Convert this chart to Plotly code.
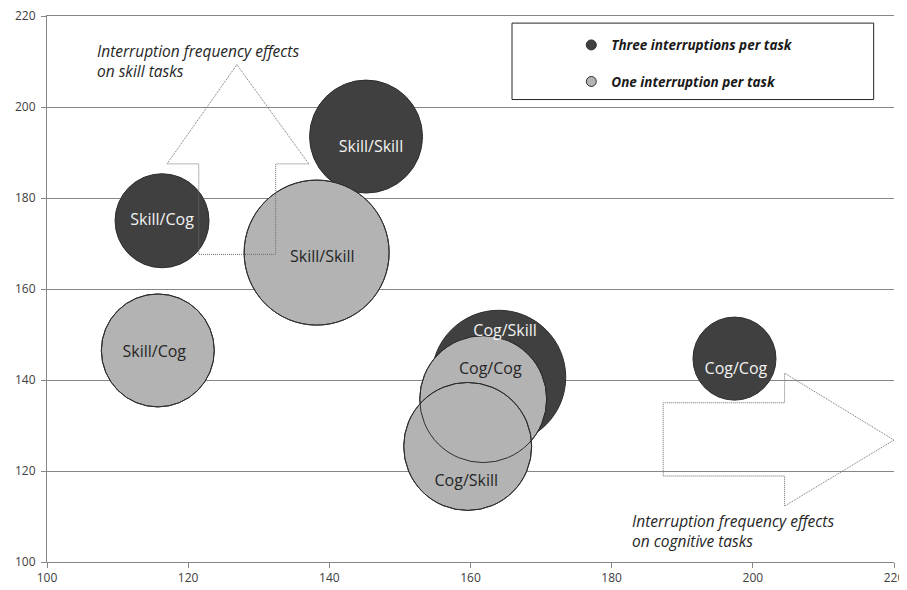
import plotly.graph_objects as go

# ---- data ----
series_names = ["Three interruptions per task", "One interruption per task"]

three_labels = ["Skill/Cog", "Skill/Skill", "Cog/Skill", "Cog/Cog"]
three_x = [116.3, 145.2, 164.0, 197.4]
three_y = [175.0, 193.5, 140.6, 144.7]
three_size = [42.0, 60.7, 85.4, 32.8]

one_labels = ["Skill/Cog", "Skill/Skill", "Cog/Cog", "Cog/Skill"]
one_x = [115.7, 138.2, 161.8, 159.6]
one_y = [146.5, 168.0, 135.8, 125.4]
one_size = [60.7, 100.0, 76.7, 77.9]

# label anchor positions (data coords) as placed in the original chart
three_label_x = [116.3, 145.9, 164.9, 197.6]
three_label_y = [175.0, 191.0, 150.6, 142.3]
one_label_x = [115.2, 139.0, 162.8, 159.4]
one_label_y = [146.0, 166.9, 142.3, 117.5]

x_ticks = [100, 120, 140, 160, 180, 200, 220]
y_ticks = [100, 120, 140, 160, 180, 200, 220]

# arrow outlines (data coords)
up_arrow_x = [126.9, 137.1, 132.4, 132.4, 121.5, 121.5, 117.0]
up_arrow_y = [209.3, 187.5, 187.5, 167.6, 167.6, 187.5, 187.5]
right_arrow_x = [220.0, 204.5, 204.5, 187.3, 187.3, 204.5, 204.5]
right_arrow_y = [126.8, 112.3, 118.9, 118.9, 135.0, 135.0, 141.5]

FONT = "Open Sans"
DARK = "#404040"
LIGHT = "#b3b3b3"
EDGE = "#2e2e2e"
GRID = "#868686"

max_diam = 145
sizeref = 2.0 * max(one_size + three_size) / (max_diam ** 2)

fig = go.Figure()

fig.add_trace(go.Scatter(
    x=three_x, y=three_y, mode="markers", name=series_names[0],
    showlegend=False,
    marker=dict(size=three_size, sizemode="area", sizeref=sizeref, color=DARK,
                opacity=1, line=dict(color=EDGE, width=1)),
    hoverinfo="skip",
))
fig.add_trace(go.Scatter(
    x=one_x, y=one_y, mode="markers", name=series_names[1],
    showlegend=False,
    marker=dict(size=one_size, sizemode="area", sizeref=sizeref, color=LIGHT,
                opacity=1, line=dict(color=EDGE, width=1)),
    hoverinfo="skip",
))
# outlines of light bubbles drawn on top (overlaps show both rims)
fig.add_trace(go.Scatter(
    x=one_x, y=one_y, mode="markers", showlegend=False,
    marker=dict(size=one_size, sizemode="area", sizeref=sizeref, opacity=1,
                color="rgba(0,0,0,0)", line=dict(color=EDGE, width=1)),
    hoverinfo="skip",
))
# data labels
fig.add_trace(go.Scatter(
    x=three_label_x, y=three_label_y, mode="text", text=three_labels,
    textfont=dict(family=FONT, size=16, color="#f2f2f2"),
    showlegend=False, hoverinfo="skip",
))
fig.add_trace(go.Scatter(
    x=one_label_x, y=one_label_y, mode="text", text=one_labels,
    textfont=dict(family=FONT, size=16, color="#262626"),
    showlegend=False, hoverinfo="skip",
))
# legend entries (legend-only symbols for the two series)
fig.add_trace(go.Scatter(
    x=[None], y=[None], mode="markers", name=series_names[0], legendgroup="a",
    marker=dict(size=10, color=DARK, line=dict(color=EDGE, width=1)),
))
fig.add_trace(go.Scatter(
    x=[None], y=[None], mode="markers", name=series_names[1], legendgroup="b",
    marker=dict(size=10, color=LIGHT, line=dict(color=EDGE, width=1)),
))


def poly_path(xs, ys):
    return "M " + " L ".join(f"{a},{b}" for a, b in zip(xs, ys)) + " Z"


ARROW_LINE = dict(color="#6e6e6e", width=1, dash="1px,1px")
shapes = [
    dict(type="path", xref="x", yref="y", path=poly_path(up_arrow_x, up_arrow_y),
         line=ARROW_LINE, fillcolor="rgba(0,0,0,0)", layer="above"),
    dict(type="path", xref="x", yref="y", path=poly_path(right_arrow_x, right_arrow_y),
         line=ARROW_LINE, fillcolor="rgba(0,0,0,0)", layer="above"),
    # legend frame
    dict(type="rect", xref="paper", yref="paper", x0=0.549, x1=0.976, y0=0.847, y1=0.987,
         line=dict(color="#262626", width=1), fillcolor="white", layer="below"),
]

annotations = [
    dict(x=106.8, y=215.2, xref="x", yref="y", xanchor="left", yanchor="top",
         text="Interruption frequency effects<br>on skill tasks", showarrow=False, align="left",
         font=dict(family=FONT, size=15.5, color="#262626", style="italic")),
    dict(x=182.6, y=111.9, xref="x", yref="y", xanchor="left", yanchor="top",
         text="Interruption frequency effects<br>on cognitive tasks", showarrow=False, align="left",
         font=dict(family=FONT, size=15.5, color="#262626", style="italic")),
]

# the page adds an 8px body margin, so the figure is sized to fit the 907x590 window
fig.update_layout(
    width=899, height=582,
    margin=dict(l=39, r=13, t=8, b=28, autoexpand=False),
    paper_bgcolor="white", plot_bgcolor="white",
    font=dict(family=FONT, size=12, color="#404040"),
    shapes=shapes, annotations=annotations,
    showlegend=True,
    legend=dict(x=0.619, y=0.975, xanchor="left", yanchor="top",
                bgcolor="rgba(0,0,0,0)", borderwidth=0,
                tracegroupgap=16,
                font=dict(family=FONT, size=13.5, color="#1a1a1a", style="italic", weight="bold")),
    xaxis=dict(range=[100, 220], tickvals=x_ticks, ticktext=[str(v) for v in x_ticks],
               showgrid=False, zeroline=False, showline=True, mirror=True,
               linecolor=GRID, linewidth=1,
               ticks="outside", ticklen=5, tickcolor=GRID, automargin=False,
               ticklabeloverflow="allow",
               tickfont=dict(family=FONT, size=12, color="#404040")),
    yaxis=dict(range=[100, 220], tickvals=y_ticks, ticktext=[str(v) for v in y_ticks],
               showgrid=True, gridcolor=GRID, gridwidth=1, zeroline=False,
               showline=True, linecolor=GRID, linewidth=1,
               ticks="outside", ticklen=5, tickcolor=GRID, automargin=False,
               ticklabeloverflow="allow", ticklabelstandoff=3,
               tickfont=dict(family=FONT, size=12, color="#404040")),
)

fig.write_html("out.html")
